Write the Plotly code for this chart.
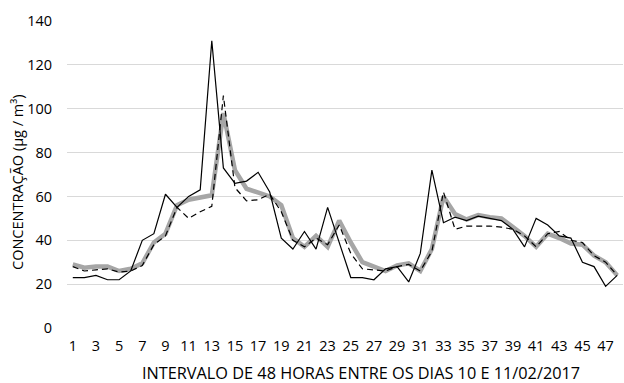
import plotly.graph_objects as go

hours = [1, 2, 3, 4, 5, 6, 7, 8, 9, 10, 11, 12, 13, 14, 15, 16, 17, 18, 19, 20, 21, 22, 23, 24,
         25, 26, 27, 28, 29, 30, 31, 32, 33, 34, 35, 36, 37, 38, 39, 40, 41, 42, 43, 44, 45, 46, 47, 48]

serie_solida = [23, 23, 24, 22, 22, 26, 40, 43, 61, 55, 60, 63, 131, 73, 66, 67, 71, 62, 41, 36, 44, 36, 55, 39,
                23, 23, 22, 27, 28, 21, 34, 72, 48, 50.5, 49, 51, 50, 49, 45, 37, 50, 47, 42, 41, 30, 28, 19, 24]

serie_tracejada = [28, 26, 26.5, 27, 25.5, 26, 28.5, 38, 42, 55, 50, 53, 55.5, 106, 64, 58, 58.5, 61, 53, 40, 37, 41, 38, 47,
                   34, 27, 26.5, 26, 28, 29, 26, 35, 62, 45, 46.5, 46.5, 46.5, 46, 45, 42, 37, 43, 44, 40, 39, 33, 30, 24]

serie_cinza = [29, 27.5, 28, 28, 26, 27, 29.5, 39, 43, 56, 58.5, 59.5, 60.5, 98, 72, 63.5, 62, 60, 56, 41, 37, 42, 37, 49,
               39, 30, 28, 26, 28.5, 29.5, 26, 36, 60, 52, 49.5, 51.5, 50.5, 50, 46, 42, 37, 43, 41, 38.5, 38, 33, 30, 24]

x_ticks = [1, 3, 5, 7, 9, 11, 13, 15, 17, 19, 21, 23, 25, 27, 29, 31, 33, 35, 37, 39, 41, 43, 45, 47]
y_ticks = [0, 20, 40, 60, 80, 100, 120, 140]

x_title = "INTERVALO DE 48 HORAS ENTRE OS DIAS 10 E 11/02/2017"
y_title = "CONCENTRAÇÃO (µg / m³)"

FONT = "Open Sans"

fig = go.Figure()
fig.add_trace(go.Scatter(x=hours, y=serie_cinza, mode="lines",
                         line=dict(color="#a6a6a6", width=4.5), showlegend=False, hoverinfo="skip"))
fig.add_trace(go.Scatter(x=hours, y=serie_solida, mode="lines",
                         line=dict(color="#000000", width=1.2), showlegend=False, hoverinfo="skip"))
fig.add_trace(go.Scatter(x=hours, y=serie_tracejada, mode="lines",
                         line=dict(color="#000000", width=1.2, dash="6px,4px"), showlegend=False,
                         hoverinfo="skip"))

fig.update_layout(
    width=624, height=383,
    margin=dict(l=67, r=1, t=21, b=55),
    paper_bgcolor="white", plot_bgcolor="white",
    font=dict(family=FONT, size=14, color="#000000"),
    xaxis=dict(range=[0.5, 48.5], tickmode="array", tickvals=x_ticks, ticktext=[str(v) for v in x_ticks],
               showgrid=False, zeroline=False, showline=False, ticks="", automargin=False,
               tickfont=dict(size=14.5), ticklabelstandoff=7),
    yaxis=dict(range=[0, 140], tickmode="array", tickvals=y_ticks,
               showgrid=True, gridcolor="#d9d9d9", gridwidth=1.3, zeroline=False, showline=False, ticks="",
               automargin=False,
               tickfont=dict(size=14.5), ticklabelstandoff=14),
    annotations=[
        dict(text=x_title, xref="paper", yref="paper", x=0.5288, y=-0.1466,
             xanchor="center", yanchor="middle", showarrow=False, font=dict(size=16.3)),
        dict(text=y_title, xref="paper", yref="paper", x=-0.0881, y=0.4756, textangle=-90,
             xanchor="center", yanchor="middle", showarrow=False, font=dict(size=14.5)),
    ],
)

fig.write_html("out.html", config={"displayModeBar": False},
               post_script="document.body.style.margin='0';document.body.style.padding='0';")
